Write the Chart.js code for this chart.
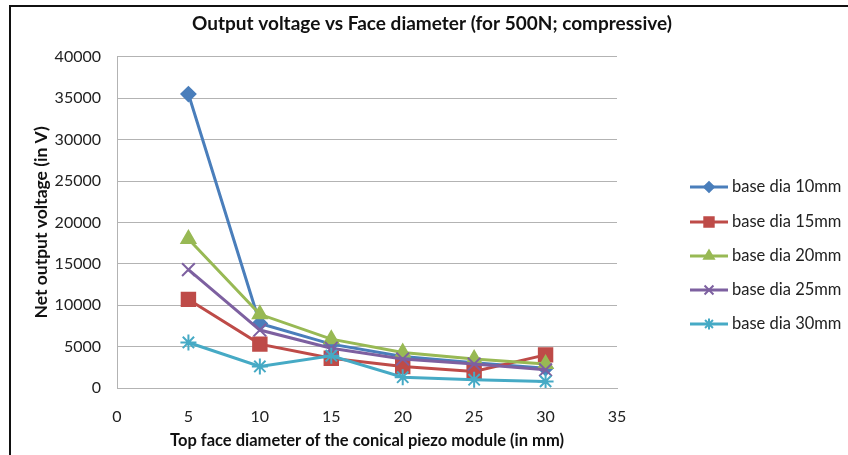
<!DOCTYPE html>
<html>
<head>
<meta charset="utf-8">
<script src="https://cdn.jsdelivr.net/npm/chart.js@4.4.1/dist/chart.umd.min.js"></script>
<style>
  html, body { margin: 0; padding: 0; background: #fff; }
  #wrap { position: relative; width: 848px; height: 455px; overflow: hidden; }
  #frame { position: absolute; left: 9px; top: 5px; right: -4px; bottom: -4px;
           border-top: 2px solid #111; border-left: 2px solid #111; }
  #chart { position: absolute; left: 0; top: 0; }
</style>
</head>
<body>
<div id="wrap">
  <div id="frame"></div>
  <canvas id="chart" width="848" height="455"></canvas>
</div>
<script>
// top face diameter (mm)
const faceDia = [5, 10, 15, 20, 25, 30];

// net output voltage (V) per base diameter
const base10 = [35500, 7800, 5300, 3800, 3050, 2400];
const base15 = [10700, 5300, 3600, 2600, 2000, 4000];
const base20 = [18000, 8900, 5900, 4300, 3500, 2900];
const base25 = [14300, 7000, 4800, 3500, 2900, 2200];
const base30 = [5500, 2600, 3900, 1300, 1000, 800];

const seriesNames = ['base dia 10mm', 'base dia 15mm', 'base dia 20mm', 'base dia 25mm', 'base dia 30mm'];
const seriesValues = [base10, base15, base20, base25, base30];
const colors = ['#4A7EBB', '#BE4B48', '#98B954', '#7D60A0', '#46AAC5'];
const markers = ['rectRot', 'rect', 'triangle', 'crossRot', 'star'];
const markerSizes = [7, 9.5, 8, 9, 8];

const FONT = 'Lato, "Open Sans", sans-serif';

const datasets = seriesValues.map((vals, i) => ({
    label: seriesNames[i],
    data: vals.map((v, j) => ({ x: faceDia[j], y: v })),
    borderColor: colors[i],
    backgroundColor: colors[i],
    borderWidth: 3,
    pointStyle: markers[i],
    pointRadius: markerSizes[i],
    pointBorderWidth: 2,
    pointBorderColor: colors[i],
    pointBackgroundColor: colors[i],
    tension: 0,
    order: seriesValues.length - i
}));

// legend drawn to the right of the plot, Excel style (line + marker)
const sideLegend = {
    id: 'sideLegend',
    afterDraw(chart) {
        const ctx = chart.ctx;
        const x0 = 690, x1 = 728, textX = 732;
        const rows = [187, 222, 256, 290, 324];
        ctx.save();
        chart.data.datasets.forEach((ds, i) => {
            const y = rows[i];
            ctx.strokeStyle = ds.borderColor;
            ctx.lineWidth = 3;
            ctx.beginPath();
            ctx.moveTo(x0, y);
            ctx.lineTo(x1, y);
            ctx.stroke();
            ctx.fillStyle = ds.backgroundColor;
            ctx.lineWidth = 2;
            Chart.helpers.drawPoint(ctx, {
                pointStyle: ds.pointStyle,
                radius: ds.pointRadius * 0.7,
                rotation: 0,
                borderWidth: 2
            }, (x0 + x1) / 2, y);
            ctx.fillStyle = '#222';
            ctx.font = '16.5px ' + FONT;
            ctx.textAlign = 'left';
            ctx.textBaseline = 'middle';
            ctx.fillText(ds.label, textX, y);
        });
        ctx.restore();
    }
};

new Chart(document.getElementById('chart'), {
    type: 'line',
    data: { datasets },
    options: {
        responsive: false,
        animation: false,
        layout: { padding: { left: 16, right: 0, top: 0, bottom: 4 } },
        plugins: {
            legend: { display: false },
            tooltip: { enabled: false },
            title: {
                display: true,
                text: 'Output voltage vs Face diameter (for 500N; compressive)',
                color: '#111',
                font: { family: FONT, size: 19, weight: 'bold' },
                padding: { top: 12, bottom: 22 }
            }
        },
        scales: {
            x: {
                type: 'linear',
                min: 0,
                max: 35,
                ticks: { stepSize: 5, padding: 11, color: '#222', font: { family: FONT, size: 16 } },
                grid: { display: false },
                border: { color: '#b3b3b3', width: 1 },
                title: {
                    display: true,
                    text: 'Top face diameter of the conical piezo module (in mm)',
                    color: '#111',
                    font: { family: FONT, size: 16.5, weight: 'bold' },
                    padding: { top: 10, bottom: 0 }
                },
                afterFit(scale) { scale.height = 63; }
            },
            y: {
                min: 0,
                max: 40000,
                ticks: {
                    stepSize: 5000,
                    padding: 16,
                    color: '#222',
                    font: { family: FONT, size: 16 },
                    callback: (v) => String(v)
                },
                grid: { color: '#b3b3b3', drawTicks: false },
                border: { color: '#b3b3b3', width: 1 },
                title: {
                    display: true,
                    text: 'Net output voltage (in V)',
                    color: '#111',
                    font: { family: FONT, size: 17.5, weight: 'bold' },
                    padding: { top: 15, bottom: 0 }
                },
                afterFit(scale) { scale.width = 101; }
            },
            side: {
                type: 'linear',
                position: 'right',
                display: true,
                ticks: { display: false },
                grid: { display: false },
                border: { display: false },
                afterFit(scale) { scale.width = 231; }
            }
        }
    },
    plugins: [sideLegend]
});
</script>
</body>
</html>
